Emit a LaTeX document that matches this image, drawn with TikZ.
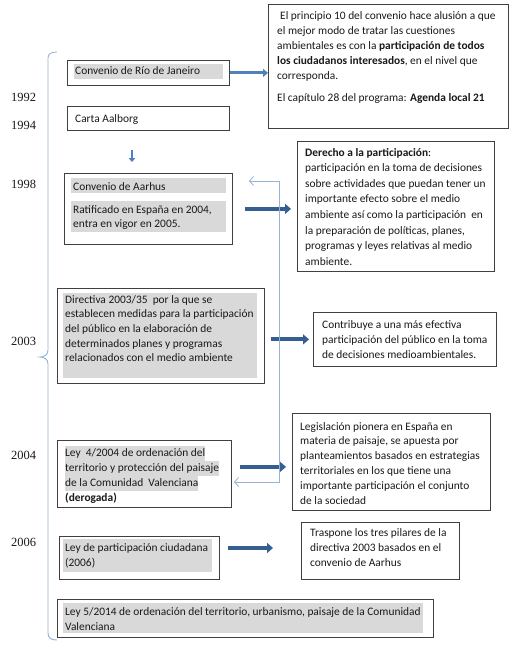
\documentclass[tikz,border=0pt]{standalone}
\usepackage{fontspec}
\setmainfont{Carlito}
\newfontfamily\yearfont{Liberation Serif}
\usetikzlibrary{arrows.meta,calc}
\definecolor{boxline}{RGB}{64,64,64}
\definecolor{hlgray}{RGB}{217,217,217}
\definecolor{lightblue}{RGB}{149,179,215}
\definecolor{darkblue}{RGB}{54,95,145}
\definecolor{midblue}{RGB}{79,129,189}
\definecolor{txtcol}{RGB}{25,25,25}
\newcommand\hlline[1]{{\setlength{\fboxsep}{0pt}\colorbox{hlgray}{\strut #1}}}
\newcommand\txtlines[1]{\begin{tabular}[t]{@{}l@{}}#1\end{tabular}}
\begin{document}
\begin{tikzpicture}[x=1pt,y=-1pt,
  box/.style={draw=boxline, line width=0.8pt, inner sep=0pt, anchor=north west},
  txtblk/.style={anchor=base west, inner sep=0pt, text=txtcol, font=\fontsize{11.4}{14.8}\selectfont},
  year/.style={anchor=base west, inner sep=0pt, text=txtcol, font=\yearfont\fontsize{12.5}{14}\selectfont},
  thickarrow/.style={draw=darkblue, line width=4pt, -{Triangle[length=6pt,width=10pt]}},
  midarrow/.style={draw=midblue, line width=3pt, -{Triangle[length=5pt,width=8pt]}},
  smallarrow/.style={draw=midblue, line width=2.5pt, -{Triangle[length=4pt,width=6.5pt]}},
  thinconn/.style={draw=lightblue, line width=0.8pt, {Straight Barb[length=4pt,width=9pt]}-{Straight Barb[length=4pt,width=9pt]}},
  bracket/.style={draw=lightblue, line width=0.9pt}
]
\useasboundingbox (0,0) rectangle (522,650);
\fill[white] (0,0) rectangle (522,650);

% bracket
\draw[bracket] (57,52) .. controls (51,52) and (48,54) .. (48,58)
  -- (48,350) .. controls (48,355) and (44,357) .. (40,357)
  .. controls (44,357) and (48,359) .. (48,364)
  -- (48,633) .. controls (48,638) and (51,640) .. (57,640);

% years
\node[year] (y1992) at (11,101.5) {1992};
\node[year] (y1994) at (11,129.5) {1994};
\node[year] (y1998) at (11,188) {1998};
\node[year] (y2003) at (11,345) {2003};
\node[year] (y2004) at (11,459) {2004};
\node[year] (y2006) at (11,546) {2006};

% gray shadings
\fill[hlgray] (74,64) rectangle (223,79);
\fill[hlgray] (71,178) rectangle (226,193);
\fill[hlgray] (71,201) rectangle (226,232);
\fill[hlgray] (63,293) rectangle (257,378);
\fill[hlgray] (63,539) rectangle (212,572);
\fill[hlgray] (63,603) rectangle (423,633);

% boxes
\node[box, minimum width=162pt, minimum height=25pt] (rio) at (67,60) {};
\node[box, minimum width=162pt, minimum height=24pt] (carta) at (67,106) {};
\node[box, minimum width=240pt, minimum height=124pt] (principio) at (268,4) {};
\node[box, minimum width=168pt, minimum height=71pt] (aarhus) at (64,173) {};
\node[box, minimum width=197pt, minimum height=130pt] (derecho) at (297,141) {};
\node[box, minimum width=207pt, minimum height=95pt] (directiva) at (57,288) {};
\node[box, minimum width=183pt, minimum height=54pt] (contrib) at (313,312) {};
\node[box, minimum width=174pt, minimum height=67pt] (ley4) at (57,440) {};
\node[box, minimum width=198pt, minimum height=97pt] (legis) at (292,413) {};
\node[box, minimum width=160pt, minimum height=43pt] (lpart) at (59,536) {};
\node[box, minimum width=158pt, minimum height=57pt] (traspone) at (301,522) {};
\node[box, minimum width=376pt, minimum height=38pt] (ley5) at (57,599) {};

% texts
\node[txtblk] (trio) at (75,75) {Convenio de Río de Janeiro};
\node[txtblk] (tcarta) at (75,122) {Carta Aalborg};
\node[txtblk] (tprin) at (277,20) {\txtlines{\hspace{3pt}El principio 10 del convenio hace alusión a que\\
el mejor modo de tratar las cuestiones\\
ambientales es con la \textbf{participación de todos}\\
\textbf{los ciudadanos interesados}, en el nivel que\\
corresponda.\\[8pt]
El capítulo 28 del programa: \textbf{Agenda local 21}}};
\node[txtblk] (taarhus1) at (73,190) {Convenio de Aarhus};
\node[txtblk, font=\fontsize{11.4}{14.3}\selectfont] (taarhus2) at (73,213) {\txtlines{Ratificado en España en 2004,\\entra en vigor en 2005.}};
\node[txtblk, font=\fontsize{11.4}{15.6}\selectfont] (tderecho) at (305,156) {\txtlines{\textbf{Derecho a la participación}:\\
participación en la toma de decisiones\\
sobre actividades que puedan tener un\\
importante efecto sobre el medio\\
ambiente así como la participación\ \ en\\
la preparación de políticas, planes,\\
programas y leyes relativas al medio\\
ambiente.}};
\node[txtblk, font=\fontsize{11.4}{14.7}\selectfont] (tdirectiva) at (65,303) {\txtlines{Directiva 2003/35\ \ por la que se\\
establecen medidas para la participación\\
del público en la elaboración de\\
determinados planes y programas\\
relacionados con el medio ambiente}};
\node[txtblk, font=\fontsize{11.4}{15}\selectfont] (tcontrib) at (322,328) {\txtlines{Contribuye a una más efectiva\\
participación del público en la toma\\
de decisiones medioambientales.}};
\node[txtblk, font=\fontsize{11.4}{15}\selectfont] (tley4) at (65,456) {\txtlines{\hlline{Ley\ \ 4/2004 de ordenación del}\\
\hlline{territorio y protección del paisaje}\\
\hlline{de la Comunidad\ \ Valenciana}\\
\textbf{(derogada)}}};
\node[txtblk] (tlegis) at (300,430) {\txtlines{Legislación pionera en España en\\
materia de paisaje, se apuesta por\\
planteamientos basados en estrategias\\
territoriales en los que tiene una\\
importante participación el conjunto\\
de la sociedad}};
\node[txtblk, font=\fontsize{11.4}{15}\selectfont] (tlpart) at (65,551) {\txtlines{Ley de participación ciudadana\\(2006)}};
\node[txtblk, font=\fontsize{11.4}{15}\selectfont] (ttras) at (310,536) {\txtlines{Traspone los tres pilares de la\\
directiva 2003 basados en el\\
convenio de Aarhus}};
\node[txtblk, font=\fontsize{11.4}{15}\selectfont] (tley5) at (65,615) {\txtlines{Ley 5/2014 de ordenación del territorio, urbanismo, paisaje de la Comunidad\\Valenciana}};

% arrows
\draw[midarrow] (rio.east) -- (rio.east -| principio.west);
\coordinate (dnA) at (132,150);
\coordinate (dnB) at (132,162);
\draw[smallarrow] (dnA) -- (dnB);
\draw[thickarrow, shorten <=12pt, shorten >=6pt] (aarhus.east) -- (aarhus.east -| derecho.west);
\draw[thickarrow, shorten <=6pt, shorten >=4pt] (directiva.east |- contrib.west) -- (contrib.west);
\draw[thickarrow, shorten <=8pt, shorten >=6pt] ([yshift=7pt]ley4.east) -- ([yshift=7pt]ley4.east -| legis.west);
\coordinate (lpTip) at (273,548);
\draw[thickarrow, shorten <=8pt] (lpart.east |- lpTip) -- (lpTip);

% thin connector
\coordinate (tcA) at (249,181);
\coordinate (tcB) at (279,181);
\coordinate (tcC) at (279,482);
\coordinate (tcD) at (234,482);
\draw[thinconn] (tcA) -- (tcB) -- (tcC) -- (tcD);
\end{tikzpicture}
\end{document}
